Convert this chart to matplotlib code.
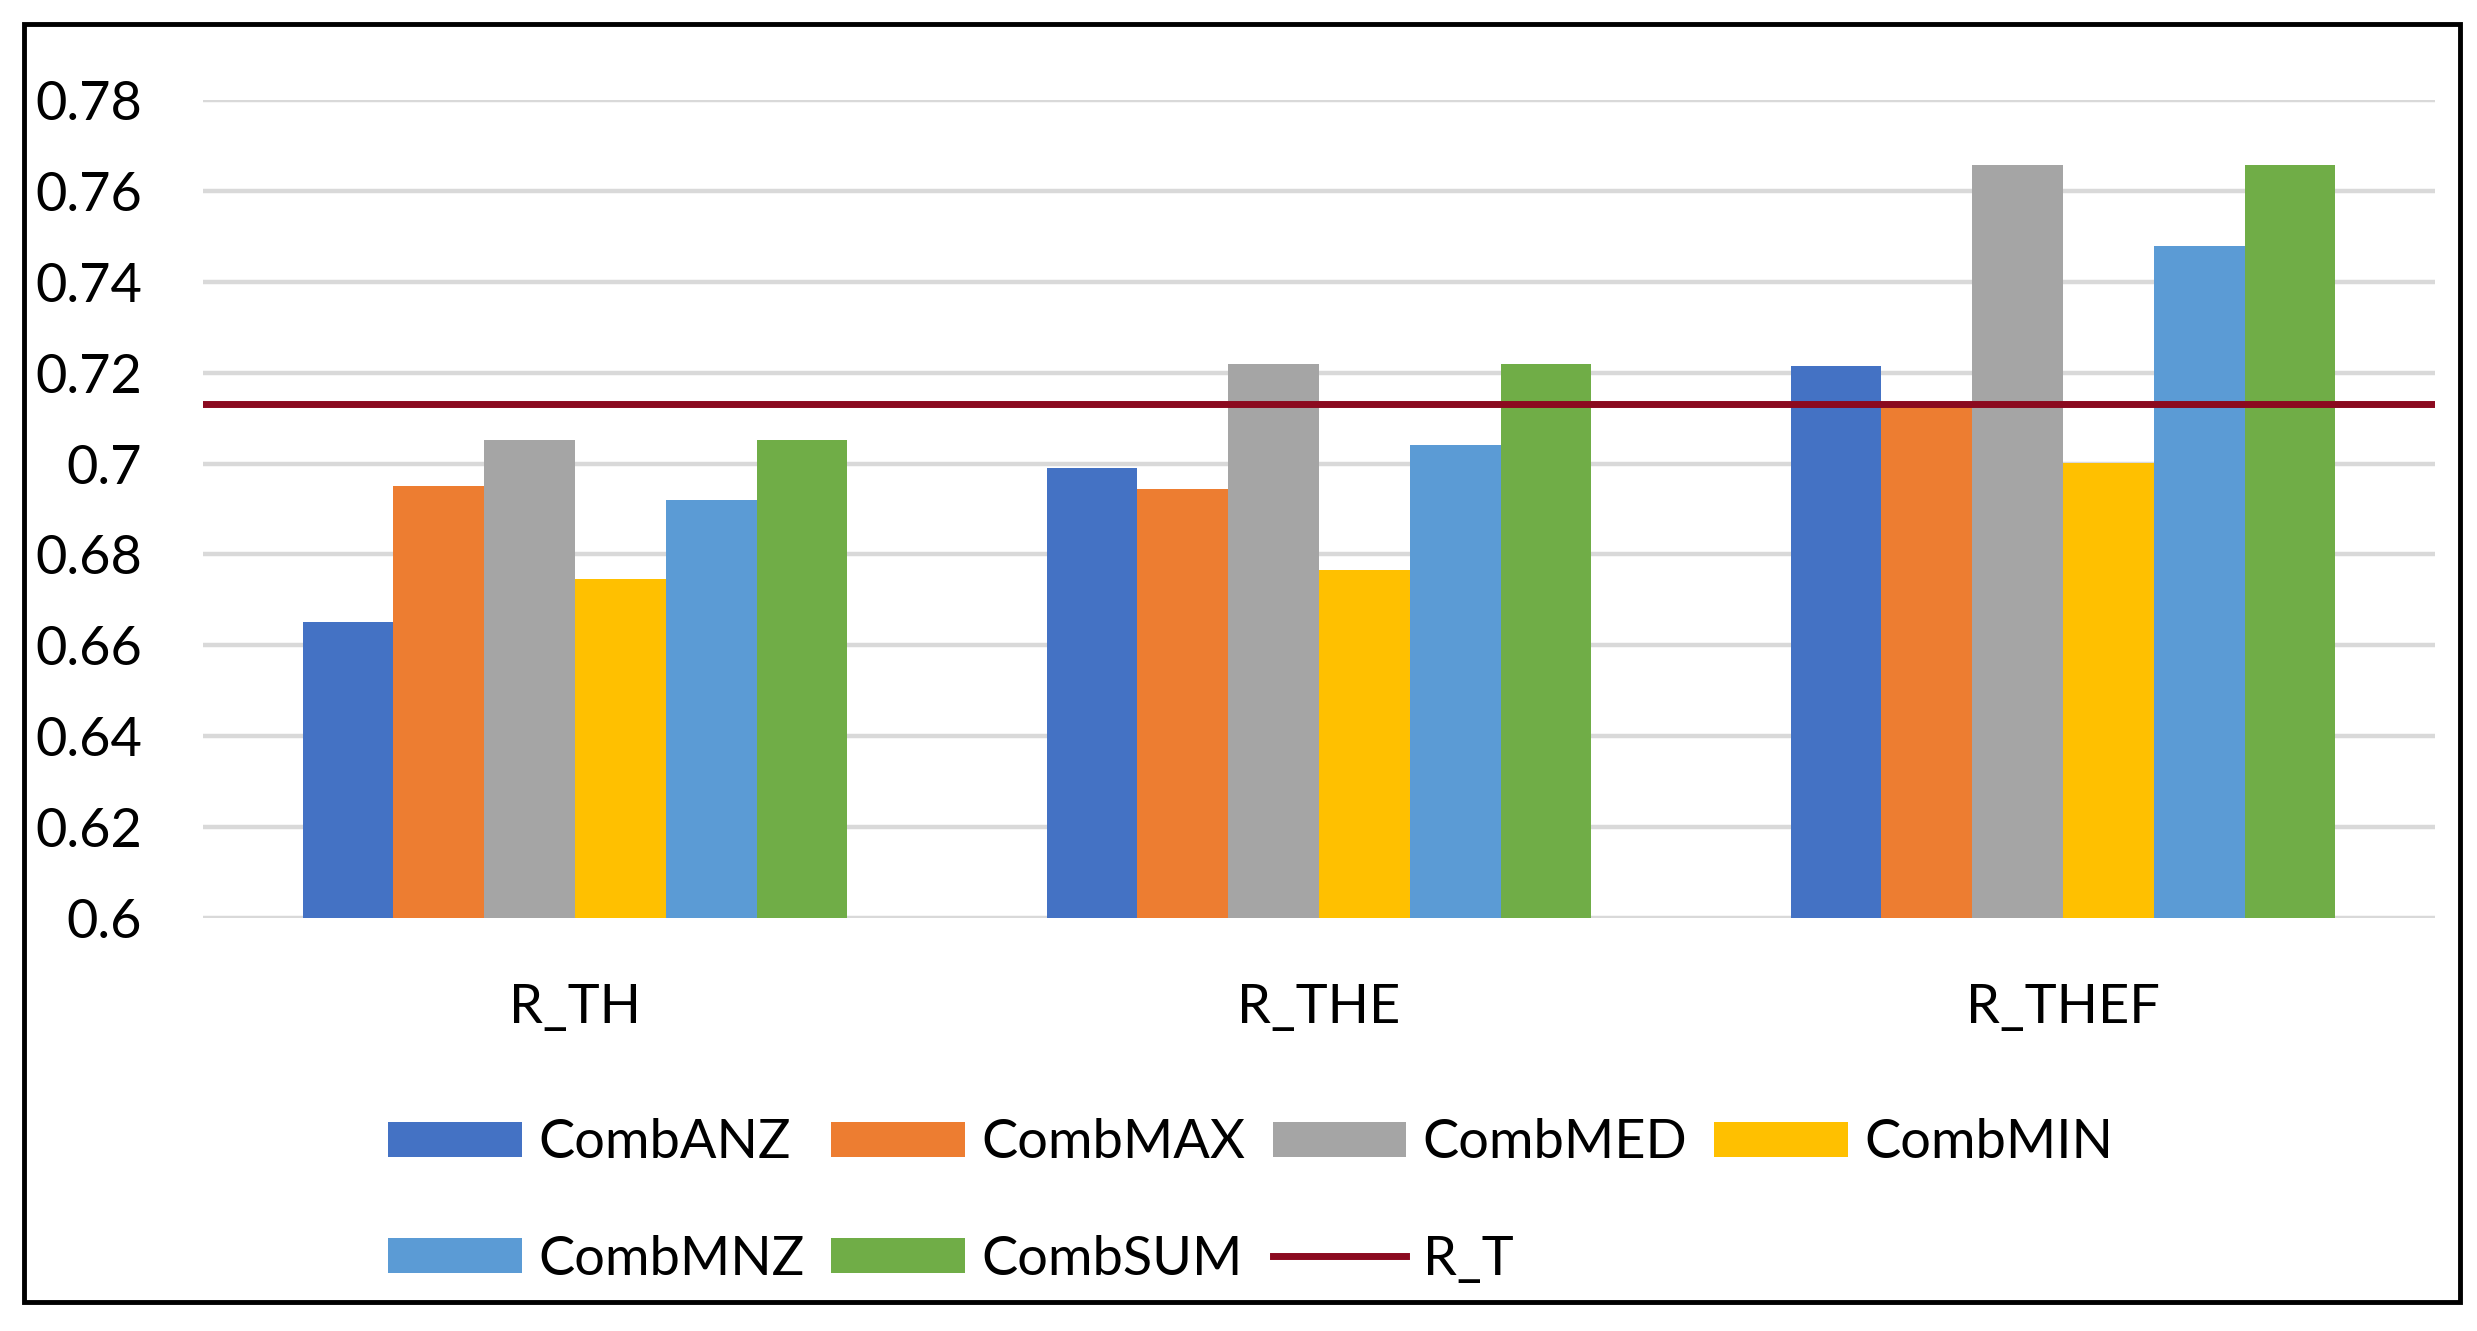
import matplotlib
matplotlib.use("Agg")
import matplotlib.pyplot as plt
from matplotlib.patches import Rectangle
from matplotlib.ticker import FuncFormatter
import numpy as np

categories = ["R_TH", "R_THE", "R_THEF"]
series_names = ["CombANZ", "CombMAX", "CombMED", "CombMIN", "CombMNZ", "CombSUM"]
comb_anz = [0.665, 0.699, 0.7215]
comb_max = [0.695, 0.6945, 0.7135]
comb_med = [0.7052, 0.7219, 0.7658]
comb_min = [0.6745, 0.6765, 0.7002]
comb_mnz = [0.692, 0.704, 0.748]
comb_sum = [0.7052, 0.7219, 0.7658]
r_t = 0.7132
y_ticks = [0.6, 0.62, 0.64, 0.66, 0.68, 0.7, 0.72, 0.74, 0.76, 0.78]

series_values = [comb_anz, comb_max, comb_med, comb_min, comb_mnz, comb_sum]
colors = ["#4472C4", "#ED7D31", "#A5A5A5", "#FFC000", "#5B9BD5", "#70AD47"]

plt.rcParams['font.family'] = ['Lato', 'DejaVu Sans']
FS = 39

W, H = 2477, 1331
fig = plt.figure(figsize=(W / 100, H / 100), dpi=100)

ax = fig.add_axes([203 / W, (H - 918) / H, (2435 - 203) / W, (918 - 100) / H])

x = np.arange(len(categories))
bw = 0.122
handles = []
for i, (name, vals, c) in enumerate(zip(series_names, series_values, colors)):
    b = ax.bar(x + (i - 2.5) * bw, vals, width=bw, color=c, label=name, zorder=2)
    handles.append(b)

line = ax.axhline(r_t, color="#8B0A1F", lw=5, label="R_T", zorder=3)

ax.set_xlim(-0.5, 2.5)
ax.set_ylim(0.5999, 0.7801)
ax.set_yticks(y_ticks)
ax.yaxis.set_major_formatter(FuncFormatter(lambda v, p: f"{round(v, 2):g}"))
ax.set_xticks(x)
ax.set_xticklabels(categories)
ax.grid(axis='y', color="#D9D9D9", lw=3.2, zorder=0)
ax.set_axisbelow(True)
for s in ax.spines.values():
    s.set_visible(False)
ax.tick_params(axis='y', length=0, pad=44, labelsize=FS)
ax.tick_params(axis='x', length=0, pad=47, labelsize=FS)

# legend ordered to read row-wise
order = [0, 4, 1, 5, 2, 6, 3]
all_handles = handles + [line]
all_labels = series_names + ["R_T"]
leg = fig.legend([all_handles[k] for k in order], [all_labels[k] for k in order],
                 loc='center left', bbox_to_anchor=(388 / W, (H - 1201) / H),
                 ncol=4, frameon=False, fontsize=FS, handlelength=2.47,
                 handleheight=0.63, handletextpad=0.3, columnspacing=0.5,
                 labelspacing=1.24, borderpad=0, borderaxespad=0)

# outer border
fig.patches.append(Rectangle((24 / W, (H - 1302) / H), (2460 - 24) / W, (1302 - 24) / H,
                             transform=fig.transFigure, fill=False, edgecolor='black',
                             lw=3.5, zorder=10))

fig.savefig("out.png", dpi=100)
